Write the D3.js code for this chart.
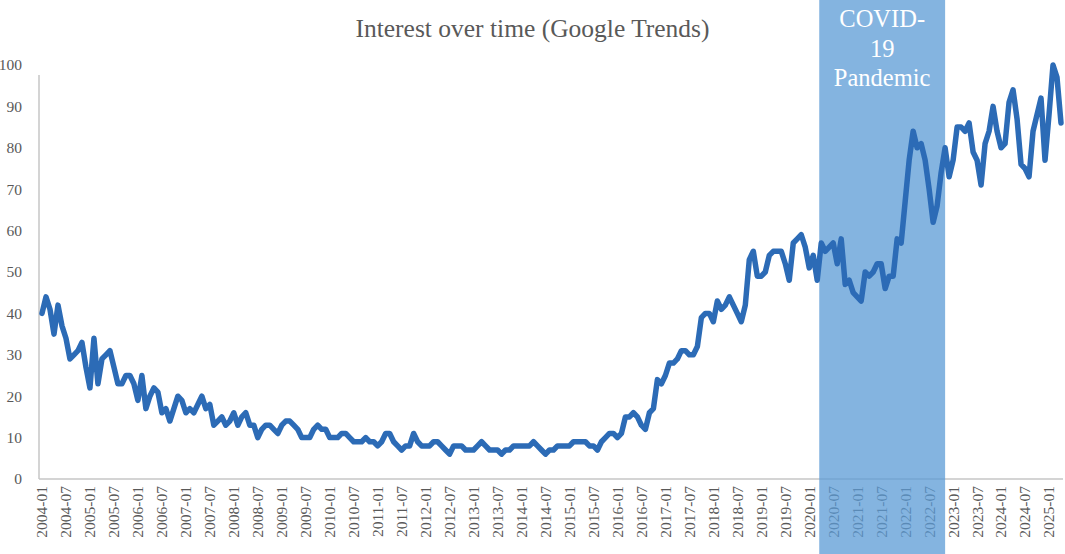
<!DOCTYPE html>
<html>
<head>
<meta charset="utf-8">
<script src="https://d3js.org/d3.v7.min.js"></script>
<style>
  body { margin: 0; background: #fff; }
  text { font-family: "Liberation Serif", "DejaVu Serif", serif; }
</style>
</head>
<body>
<div id="chart"></div>
<script>
// monthly interest values, 2004-01 .. 2025-04
var interest = [
  40,44,41,35,42,37,34,29,30,31,
  33,27,22,34,23,29,30,31,27,23,
  23,25,25,23,19,25,17,20,22,21,
  16,17,14,17,20,19,16,17,16,18,
  20,17,18,13,14,15,13,14,16,13,
  15,16,13,13,10,12,13,13,12,11,
  13,14,14,13,12,10,10,10,12,13,
  12,12,10,10,10,11,11,10,9,9,
  9,10,9,9,8,9,11,11,9,8,
  7,8,8,11,9,8,8,8,9,9,
  8,7,6,8,8,8,7,7,7,8,
  9,8,7,7,7,6,7,7,8,8,
  8,8,8,9,8,7,6,7,7,8,
  8,8,8,9,9,9,9,8,8,7,
  9,10,11,11,10,11,15,15,16,15,
  13,12,16,17,24,23,25,28,28,29,
  31,31,30,30,32,39,40,40,38,43,
  41,42,44,42,40,38,42,53,55,49,
  49,50,54,55,55,55,52,48,57,58,
  59,56,51,54,48,57,55,56,57,52,
  58,47,48,45,44,43,50,49,50,52,
  52,46,49,49,58,57,67,77,84,80,
  81,77,70,62,66,74,80,73,77,85,
  85,84,86,79,77,71,81,84,90,84,
  80,81,91,94,87,76,75,73,84,88,
  92,77,88,100,97,86
];

var months = interest.map(function (v, i) {
    var y = 2004 + Math.floor(i / 12), m = (i % 12) + 1;
    return y + "-" + (m < 10 ? "0" + m : m);
});

var yTicks = [0, 10, 20, 30, 40, 50, 60, 70, 80, 90, 100];
var xTickLabels = months.filter(function (d) { return d.slice(5) === "01" || d.slice(5) === "07"; });

var covidStart = "2020-04",
    covidEnd = "2022-11",
    covidLabel = ["COVID-", "19", "Pandemic"];

var chartTitle = "Interest over time (Google Trends)";

var width = 1065, height = 554;
var margin = { top: 65, right: 2, bottom: 75, left: 40 };

var svg = d3.select("#chart")
    .append("svg")
    .attr("width", width)
    .attr("height", height);

var x = d3.scaleBand()
    .domain(months)
    .range([margin.left, width - margin.right])
    .padding(0);

var y = d3.scaleLinear()
    .domain([0, 100])
    .range([height - margin.bottom, margin.top]);

var bw = x.bandwidth();
function cx(d) { return x(d) + bw / 2; }

var textColor = "#595959";

// title
svg.append("text")
    .attr("x", width / 2)
    .attr("y", 37)
    .attr("text-anchor", "middle")
    .attr("font-size", 25.5)
    .attr("fill", textColor)
    .text(chartTitle);

// y labels
svg.selectAll(".ylab")
    .data(yTicks)
    .enter()
    .append("text")
    .attr("class", "ylab")
    .attr("x", 22)
    .attr("y", function (d) { return y(d); })
    .attr("dy", "0.35em")
    .attr("text-anchor", "end")
    .attr("font-size", 15.5)
    .attr("fill", textColor)
    .text(function (d) { return d; });

// x labels, rotated
svg.selectAll(".xlab")
    .data(xTickLabels)
    .enter()
    .append("text")
    .attr("class", "xlab")
    .attr("transform", function (d) { return "translate(" + cx(d) + "," + (y(0) + 7) + ") rotate(-90)"; })
    .attr("dy", "0.35em")
    .attr("text-anchor", "end")
    .attr("font-size", 15.5)
    .attr("fill", textColor)
    .text(function (d) { return d; });

// axis lines
svg.append("line")
    .attr("x1", margin.left - 1)
    .attr("x2", margin.left - 1)
    .attr("y1", y(0))
    .attr("y2", y(100) + 10)
    .attr("stroke", "#c6c6c6")
    .attr("stroke-width", 1.5);

svg.append("line")
    .attr("x1", margin.left - 1)
    .attr("x2", width - margin.right)
    .attr("y1", y(0))
    .attr("y2", y(0))
    .attr("stroke", "#c6c6c6")
    .attr("stroke-width", 1.5);

// covid band (drawn over the labels, under the line)
var bandX0 = x(covidStart),
    bandX1 = cx(covidEnd);

svg.append("rect")
    .attr("x", bandX0)
    .attr("y", 0)
    .attr("width", bandX1 - bandX0)
    .attr("height", height)
    .attr("fill", "#5b9bd5")
    .attr("opacity", 0.75);

svg.selectAll(".covid")
    .data(covidLabel)
    .enter()
    .append("text")
    .attr("class", "covid")
    .attr("x", (bandX0 + bandX1) / 2)
    .attr("y", function (d, i) { return 27 + i * 29.5; })
    .attr("text-anchor", "middle")
    .attr("font-size", 24.5)
    .attr("fill", "#ffffff")
    .text(function (d) { return d; });

// the series
var line = d3.line()
    .x(function (d, i) { return cx(months[i]); })
    .y(function (d) { return y(d); });

svg.append("path")
    .datum(interest)
    .attr("d", line)
    .attr("fill", "none")
    .attr("stroke", "#2c6bb6")
    .attr("stroke-width", 5.5)
    .attr("stroke-linejoin", "round")
    .attr("stroke-linecap", "round");
</script>
</body>
</html>
